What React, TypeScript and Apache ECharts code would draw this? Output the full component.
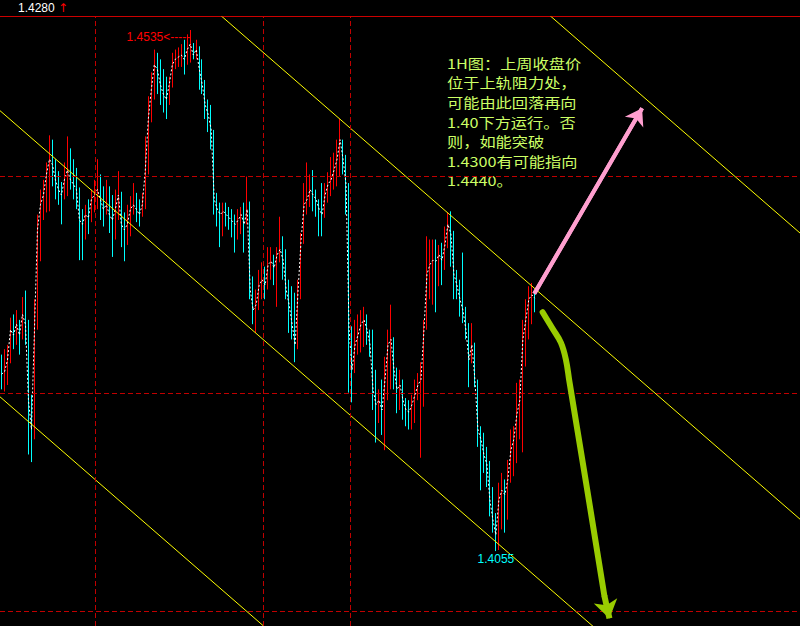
import React, { useEffect, useRef } from "react";
import * as echarts from "echarts";

// ---- price data (1H bars) ----
const firstOpen = 1.4225;
const closes = [
  1.4218,1.4220,1.4231,1.4259,1.4254,1.4264,1.4254,1.4273,1.4264,1.4194,
  1.4167,1.4259,1.4351,1.4374,1.4383,1.4402,1.4416,1.4411,1.4397,1.4388,
  1.4383,1.4397,1.4406,1.4397,1.4393,1.4388,1.4360,1.4356,1.4365,1.4362,
  1.4379,1.4383,1.4388,1.4379,1.4370,1.4374,1.4365,1.4360,1.4370,1.4383,
  1.4356,1.4351,1.4356,1.4370,1.4374,1.4370,1.4365,1.4374,1.4406,1.4453,
  1.4480,1.4503,1.4499,1.4485,1.4476,1.4471,1.4485,1.4503,1.4508,1.4510,
  1.4512,1.4508,1.4517,1.4522,1.4512,1.4517,1.4499,1.4485,1.4466,1.4457,
  1.4443,1.4379,1.4370,1.4365,1.4368,1.4365,1.4362,1.4359,1.4356,1.4360,
  1.4365,1.4356,1.4370,1.4296,1.4277,1.4282,1.4300,1.4305,1.4300,1.4319,
  1.4322,1.4316,1.4328,1.4333,1.4323,1.4296,1.4282,1.4264,1.4245,1.4296,
  1.4342,1.4374,1.4379,1.4388,1.4383,1.4379,1.4370,1.4365,1.4383,1.4393,
  1.4397,1.4406,1.4416,1.4434,1.4416,1.4393,1.4259,1.4222,1.4245,1.4254,
  1.4264,1.4268,1.4259,1.4245,1.4204,1.4190,1.4194,1.4185,1.4213,1.4245,
  1.4250,1.4222,1.4204,1.4208,1.4194,1.4185,1.4183,1.4190,1.4199,1.4208,
  1.4213,1.4259,1.4310,1.4319,1.4323,1.4322,1.4328,1.4323,1.4337,1.4356,
  1.4347,1.4310,1.4300,1.4287,1.4277,1.4259,1.4231,1.4245,1.4213,1.4167,
  1.4158,1.4144,1.4135,1.4102,1.4084,1.4070,1.4102,1.4111,1.4107,1.4121,
  1.4148,1.4158,1.4181,1.4194,1.4250,1.4268,1.4287,1.4291,1.4288,
];
const highs = [
  1.4236,1.4241,1.4245,1.4270,1.4273,1.4277,1.4268,1.4289,1.4295,1.4268,
  1.4199,1.4287,1.4365,1.4388,1.4397,1.4413,1.4438,1.4434,1.4416,1.4405,
  1.4395,1.4413,1.4437,1.4426,1.4416,1.4408,1.4390,1.4370,1.4374,1.4379,
  1.4388,1.4397,1.4416,1.4402,1.4391,1.4397,1.4391,1.4383,1.4388,1.4405,
  1.4386,1.4367,1.4374,1.4382,1.4394,1.4385,1.4379,1.4385,1.4437,1.4474,
  1.4496,1.4517,1.4514,1.4508,1.4499,1.4492,1.4492,1.4514,1.4517,1.4519,
  1.4522,1.4526,1.4531,1.4535,1.4523,1.4526,1.4520,1.4508,1.4489,1.4471,
  1.4466,1.4443,1.4385,1.4376,1.4376,1.4376,1.4372,1.4370,1.4365,1.4370,
  1.4372,1.4376,1.4400,1.4377,1.4308,1.4296,1.4314,1.4321,1.4317,1.4335,
  1.4335,1.4328,1.4335,1.4363,1.4345,1.4333,1.4305,1.4299,1.4293,1.4305,
  1.4348,1.4394,1.4413,1.4402,1.4406,1.4388,1.4379,1.4394,1.4394,1.4404,
  1.4418,1.4422,1.4434,1.4453,1.4434,1.4420,1.4394,1.4262,1.4268,1.4273,
  1.4277,1.4280,1.4273,1.4259,1.4259,1.4222,1.4204,1.4213,1.4234,1.4259,
  1.4282,1.4252,1.4224,1.4222,1.4213,1.4196,1.4194,1.4199,1.4213,1.4219,
  1.4229,1.4268,1.4345,1.4342,1.4342,1.4342,1.4337,1.4339,1.4354,1.4367,
  1.4368,1.4350,1.4314,1.4305,1.4330,1.4280,1.4265,1.4265,1.4247,1.4213,
  1.4170,1.4164,1.4151,1.4138,1.4114,1.4090,1.4118,1.4127,1.4121,1.4139,
  1.4167,1.4170,1.4210,1.4213,1.4268,1.4287,1.4299,1.4302,1.4293,
];
const lows = [
  1.4204,1.4202,1.4208,1.4228,1.4241,1.4245,1.4236,1.4250,1.4245,1.4144,
  1.4137,1.4158,1.4259,1.4322,1.4360,1.4367,1.4368,1.4391,1.4379,1.4374,
  1.4356,1.4379,1.4382,1.4388,1.4379,1.4370,1.4323,1.4323,1.4342,1.4347,
  1.4358,1.4367,1.4370,1.4360,1.4354,1.4365,1.4348,1.4326,1.4342,1.4360,
  1.4335,1.4322,1.4337,1.4345,1.4365,1.4358,1.4354,1.4363,1.4370,1.4402,
  1.4450,1.4471,1.4476,1.4466,1.4459,1.4453,1.4466,1.4482,1.4499,1.4501,
  1.4501,1.4494,1.4503,1.4505,1.4508,1.4508,1.4480,1.4476,1.4453,1.4441,
  1.4425,1.4365,1.4354,1.4335,1.4345,1.4354,1.4351,1.4344,1.4330,1.4342,
  1.4347,1.4330,1.4356,1.4287,1.4264,1.4256,1.4277,1.4287,1.4287,1.4296,
  1.4305,1.4300,1.4280,1.4321,1.4305,1.4287,1.4256,1.4250,1.4229,1.4241,
  1.4287,1.4338,1.4365,1.4372,1.4368,1.4363,1.4345,1.4345,1.4362,1.4376,
  1.4382,1.4388,1.4391,1.4400,1.4402,1.4365,1.4201,1.4192,1.4219,1.4236,
  1.4238,1.4243,1.4245,1.4234,1.4185,1.4155,1.4173,1.4162,1.4148,1.4194,
  1.4204,1.4204,1.4182,1.4185,1.4176,1.4170,1.4167,1.4167,1.4173,1.4194,
  1.4141,1.4188,1.4259,1.4287,1.4282,1.4275,1.4299,1.4300,1.4314,1.4334,
  1.4317,1.4287,1.4287,1.4271,1.4265,1.4250,1.4206,1.4228,1.4206,1.4151,
  1.4111,1.4127,1.4114,1.4087,1.4072,1.4055,1.4056,1.4075,1.4072,1.4084,
  1.4118,1.4124,1.4136,1.4158,1.4146,1.4225,1.4250,1.4264,1.4275,
];

// bar slots across the whole window (the right part is empty future space)
const TOTAL_SLOTS = 267;
const priceMin = 1.3986;
const priceMax = 1.4547;

const lastPrice = "1.4280";
const highMark = { bar: 63, price: 1.4535, text: "1.4535<-----" };
const lowMark = { bar: 165, price: 1.4055, text: "1.4055" };

const gridPrices = [1.44, 1.42, 1.4];
const separatorBars = [31.2, 87.2, 116.5];

// equidistant channel lines: price at the left edge and at the right edge
const channelLines = [
  { start: 1.49888, end: 1.4348 },
  { start: 1.47252, end: 1.40844 },
  { start: 1.44607, end: 1.38199 },
  { start: 1.41971, end: 1.35563 },
];

// annotations (bar index, price)
const bullArrow = [
  [177.8, 1.4292],
  [213.8, 1.4463],
];
const bearArrowPath = [
  [180.6, 1.4275],
  [183.9, 1.426],
  [186.7, 1.4247],
  [188.4, 1.4231],
  [189.5, 1.4212],
  [195.1, 1.4118],
  [201.2, 1.4014],
];
const bearArrowTip = [202.9, 1.3993];

const noteLines = [
  "1H图：上周收盘价",
  "位于上轨阻力处，",
  "可能由此回落再向",
  "1.40下方运行。否",
  "则，如能突破",
  "1.4300有可能指向",
  "1.4440。",
];

const SMALL_FONT = "'Liberation Sans', Arial, sans-serif";

export default function App() {
  const ref = useRef<HTMLDivElement>(null);

  useEffect(() => {
    if (!ref.current) return;
    const chart = echarts.init(ref.current, undefined, { renderer: "svg" });

    const categories = Array.from({ length: TOTAL_SLOTS }, (_, i) => String(i));
    const opens = closes.map((c, i) => (i === 0 ? firstOpen : closes[i - 1]));
    const candleData = closes.map((c, i) => [opens[i], c, lows[i], highs[i]]);

    const channelSeries = channelLines.map((l) => ({
      type: "line",
      xAxisIndex: 1,
      data: [
        [-0.5, l.start],
        [TOTAL_SLOTS - 0.5, l.end],
      ],
      symbol: "none",
      silent: true,
      z: 4,
      lineStyle: { color: "#ffff00", width: 1 },
    }));

    const labelBase = {
      show: true,
      position: "inside",
      fontSize: 12,
      fontFamily: SMALL_FONT,
      textBorderWidth: 0,
      opacity: 1,
    };

    const option: any = {
      animation: false,
      backgroundColor: "#000000",
      grid: { left: 0, top: 17, width: 801, bottom: 0 },
      xAxis: [
        { type: "category", data: categories, show: false, boundaryGap: true },
        { type: "value", min: -0.5, max: TOTAL_SLOTS - 0.5, show: false },
      ],
      yAxis: { type: "value", min: priceMin, max: priceMax, show: false },
      series: [
        {
          type: "line",
          xAxisIndex: 1,
          data: [[-0.5, 1.4]],
          symbol: "none",
          silent: true,
          lineStyle: { opacity: 0 },
          z: 1,
          markLine: {
            silent: true,
            symbol: ["none", "none"],
            label: { show: false },
            lineStyle: { color: "#c00000", type: [5, 3], width: 1 },
            data: [
              ...gridPrices.map((p) => ({ yAxis: p })),
              ...separatorBars.map((b) => ({ xAxis: b })),
            ],
          },
        },
        {
          type: "candlestick",
          xAxisIndex: 0,
          data: candleData,
          barWidth: 0.1,
          z: 2,
          itemStyle: {
            color: "#ff0000",
            color0: "#00ffff",
            borderColor: "#ff0000",
            borderColor0: "#00ffff",
            borderWidth: 1,
          },
        },
        {
          type: "line",
          xAxisIndex: 0,
          data: closes,
          symbol: "none",
          silent: true,
          z: 3,
          lineStyle: { color: "#ffffff", width: 1, type: [2, 2] },
        },
        ...channelSeries,
        {
          type: "line",
          xAxisIndex: 1,
          data: bullArrow,
          symbol: "none",
          silent: true,
          z: 6,
          lineStyle: { color: "#ff9fcf", width: 4 },
          markLine: {
            silent: true,
            symbol: ["none", "arrow"],
            symbolSize: 16,
            label: { show: false },
            lineStyle: { color: "#ff9fcf", width: 4, type: "solid" },
            data: [[{ coord: bullArrow[0] }, { coord: bullArrow[1] }]],
          },
        },
        {
          type: "line",
          xAxisIndex: 1,
          data: bearArrowPath,
          smooth: 0.4,
          symbol: "none",
          silent: true,
          z: 6,
          lineStyle: { color: "#99cc00", width: 6, cap: "round" },
          markLine: {
            silent: true,
            symbol: ["none", "arrow"],
            symbolSize: 18,
            label: { show: false },
            lineStyle: { color: "#99cc00", width: 6, type: "solid" },
            data: [[{ coord: bearArrowPath[bearArrowPath.length - 1] }, { coord: bearArrowTip }]],
          },
        },
        {
          type: "scatter",
          xAxisIndex: 0,
          symbolSize: 1,
          silent: true,
          z: 7,
          itemStyle: { color: "rgba(0,0,0,0)" },
          data: [
            {
              value: [highMark.bar, highMark.price],
              label: {
                ...labelBase,
                align: "right",
                offset: [0, 7],
                formatter: highMark.text,
                color: "#ff0000",
              },
            },
            {
              value: [lowMark.bar, lowMark.price],
              label: {
                ...labelBase,
                offset: [0, 8],
                formatter: lowMark.text,
                color: "#00ffff",
              },
            },
          ],
        },
      ],
      graphic: [
        {
          type: "line",
          silent: true,
          shape: { x1: 0, y1: 16.5, x2: 800, y2: 16.5 },
          style: { stroke: "#cc0000", lineWidth: 1 },
        },
        {
          type: "text",
          silent: true,
          x: 18,
          y: 8,
          style: {
            text: lastPrice,
            fill: "#ffffff",
            font: `12px ${SMALL_FONT}`,
            verticalAlign: "middle",
          },
        },
        {
          type: "text",
          silent: true,
          x: 58,
          y: 8,
          style: {
            text: "↑",
            fill: "#ff0000",
            font: "12px 'DejaVu Sans', sans-serif",
            verticalAlign: "middle",
          },
        },
        ...noteLines.map((line, i) => ({
          type: "text",
          silent: true,
          x: 447,
          y: 63 + i * 19.6,
          scaleX: 1.2,
          style: {
            text: line,
            fill: "#ccff66",
            font: "13.5px 'Noto Sans CJK SC', sans-serif",
            verticalAlign: "middle",
          },
        })),
      ],
    };

    chart.setOption(option);
    return () => chart.dispose();
  }, []);

  return (
    <div
      ref={ref}
      style={{
        position: "fixed",
        left: 0,
        top: 0,
        width: 800,
        height: 626,
        background: "#000000",
      }}
    />
  );
}
